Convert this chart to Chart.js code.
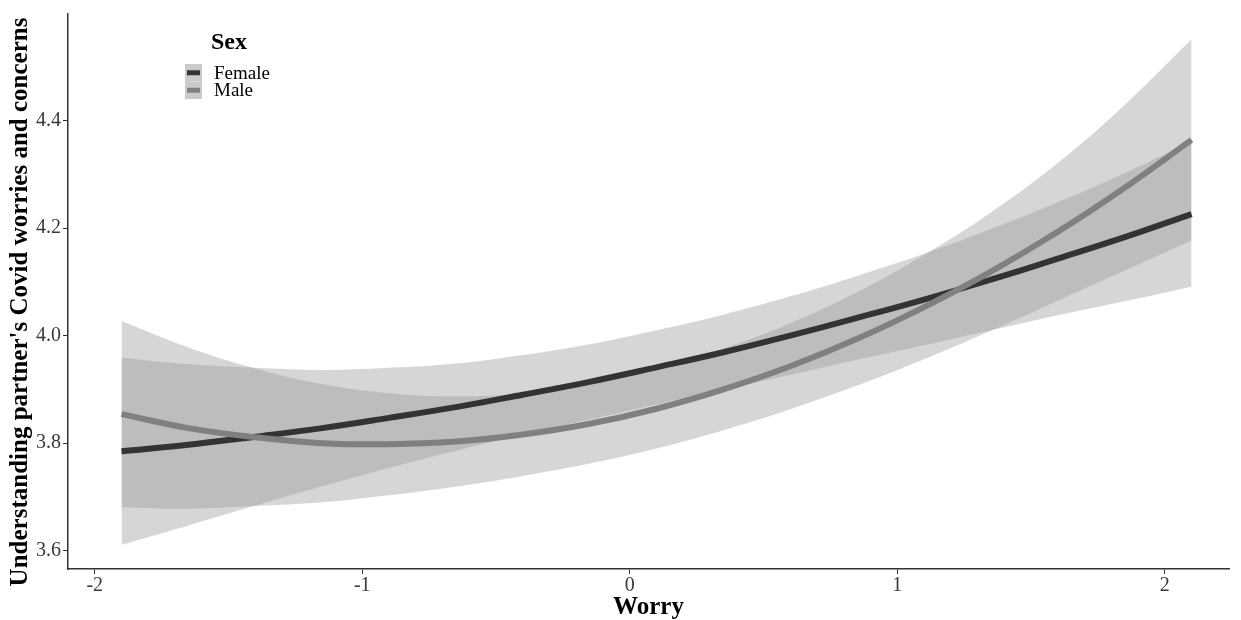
<!DOCTYPE html>
<html><head><meta charset="utf-8">
<script src="https://cdn.jsdelivr.net/npm/chart.js@4.4.0/dist/chart.umd.min.js"></script>
<style>html,body{margin:0;padding:0;background:#fff;}canvas{display:block;}</style>
</head><body>
<canvas id="c" width="1241" height="620"></canvas>
<script>
// Worry values (x) at which the fitted curves were read
const worry = [-1.9,-1.65,-1.4,-1.15,-0.9,-0.65,-0.4,-0.15,0.1,0.35,0.6,0.85,1.1,1.35,1.6,1.85,2.1];
// Female fitted curve and confidence band
const femaleFit   = [3.785,3.797,3.812,3.828,3.847,3.867,3.890,3.914,3.941,3.969,4.000,4.033,4.067,4.104,4.143,4.183,4.226];
const femaleLower = [3.611,3.647,3.684,3.720,3.754,3.786,3.816,3.844,3.872,3.899,3.927,3.955,3.982,4.010,4.038,4.064,4.091];
const femaleUpper = [3.959,3.947,3.940,3.936,3.940,3.948,3.964,3.984,4.010,4.039,4.073,4.111,4.152,4.198,4.248,4.302,4.361];
// Male fitted curve and confidence band
const maleFit   = [3.854,3.828,3.811,3.800,3.798,3.803,3.816,3.836,3.864,3.900,3.943,3.994,4.053,4.119,4.193,4.275,4.364];
const maleLower = [3.681,3.678,3.683,3.690,3.703,3.719,3.739,3.762,3.790,3.824,3.863,3.907,3.956,4.009,4.065,4.121,4.177];
const maleUpper = [4.027,3.978,3.939,3.910,3.893,3.887,3.893,3.910,3.938,3.976,4.023,4.081,4.150,4.229,4.321,4.429,4.551];
// Axis ticks and labels
const xTicks = [-2,-1,0,1,2];
const yTicks = [3.6,3.8,4.0,4.2,4.4];
const seriesNames = ['Female','Male'];
const xTitle = 'Worry';
const yTitle = "Understanding partner's Covid worries and concerns";
const legendTitle = 'Sex';

const FEMALE_COLOR = '#333333';
const MALE_COLOR = '#808080';
const BAND = 'rgba(153,153,153,0.4)';
const SERIF = "'Liberation Serif', 'Times New Roman', serif";

const pts = arr => worry.map((x, i) => ({x: x, y: arr[i]}));
const bandDs = (arr, fill) => ({data: pts(arr), borderWidth: 0, pointRadius: 0, fill: fill, backgroundColor: BAND, tension: 0.4, order: 5});
const lineDs = (arr, color, order) => ({data: pts(arr), borderColor: color, borderWidth: 6, pointRadius: 0, fill: false, tension: 0.4, order: order, borderCapStyle: 'butt'});

const textPlugin = {
  id: 'sexLegend',
  afterDraw(chart) {
    const ctx = chart.ctx;
    ctx.save();
    // y axis title
    ctx.save();
    ctx.translate(21, 302);
    ctx.rotate(-Math.PI / 2);
    ctx.fillStyle = '#000';
    ctx.font = 'bold 25px ' + SERIF;
    ctx.textAlign = 'center';
    ctx.textBaseline = 'middle';
    ctx.fillText(yTitle, 0, 0);
    ctx.restore();
    // legend
    ctx.fillStyle = '#000';
    ctx.font = 'bold 24px ' + SERIF;
    ctx.textAlign = 'left';
    ctx.textBaseline = 'middle';
    ctx.fillText(legendTitle, 211, 43);
    const keyX = 185, keyW = 17, keyH = 17.5, keyY = 64;
    const colors = [FEMALE_COLOR, MALE_COLOR];
    ctx.font = '19px ' + SERIF;
    seriesNames.forEach((name, i) => {
      const y0 = keyY + i * keyH;
      ctx.fillStyle = '#ebebeb';
      ctx.fillRect(keyX, y0, keyW, keyH);
      ctx.fillStyle = BAND;
      ctx.fillRect(keyX, y0, keyW, keyH);
      ctx.strokeStyle = colors[i];
      ctx.lineWidth = 5;
      ctx.beginPath();
      ctx.moveTo(keyX + 2, y0 + keyH / 2);
      ctx.lineTo(keyX + keyW - 2, y0 + keyH / 2);
      ctx.stroke();
      ctx.fillStyle = '#000';
      ctx.fillText(name, 214, y0 + keyH / 2 + 1);
    });
    ctx.restore();
  }
};

new Chart(document.getElementById('c'), {
  type: 'line',
  data: {
    datasets: [
      bandDs(femaleUpper, false),
      bandDs(femaleLower, '-1'),
      bandDs(maleUpper, false),
      bandDs(maleLower, '-1'),
      lineDs(femaleFit, FEMALE_COLOR, 1),
      lineDs(maleFit, MALE_COLOR, 0)
    ]
  },
  options: {
    responsive: false,
    devicePixelRatio: 1,
    animation: false,
    layout: {padding: {left: 0, top: 7, right: 12, bottom: 0}},
    plugins: {legend: {display: false}, tooltip: {enabled: false}},
    scales: {
      x: {
        type: 'linear', min: -2.1, max: 2.24,
        afterBuildTicks: s => { s.ticks = xTicks.map(v => ({value: v})); },
        afterFit: s => { s.height = 51; },
        ticks: {font: {family: SERIF, size: 20}, color: '#3a3a3a', padding: 0, autoSkip: false, maxRotation: 0,
                callback: v => String(v)},
        grid: {display: true, drawOnChartArea: false, drawTicks: true, tickLength: 5, tickColor: '#333', tickWidth: 1},
        border: {display: true, color: '#333', width: 1.5},
        title: {display: true, text: xTitle, color: '#000', font: {family: SERIF, size: 25, weight: 'bold', lineHeight: 1.0}, padding: {top: 0, bottom: 0}}
      },
      y: {
        type: 'linear', min: 3.566, max: 4.598,
        afterBuildTicks: s => { s.ticks = yTicks.map(v => ({value: v})); },
        afterFit: s => { s.width = 68; },
        ticks: {font: {family: SERIF, size: 20}, color: '#3a3a3a', padding: 2, autoSkip: false,
                callback: v => Number(v).toFixed(1)},
        grid: {display: true, drawOnChartArea: false, drawTicks: true, tickLength: 5, tickColor: '#333', tickWidth: 1},
        border: {display: true, color: '#333', width: 1.5},
        title: {display: false}
      }
    }
  },
  plugins: [textPlugin]
});
</script>
</body></html>
